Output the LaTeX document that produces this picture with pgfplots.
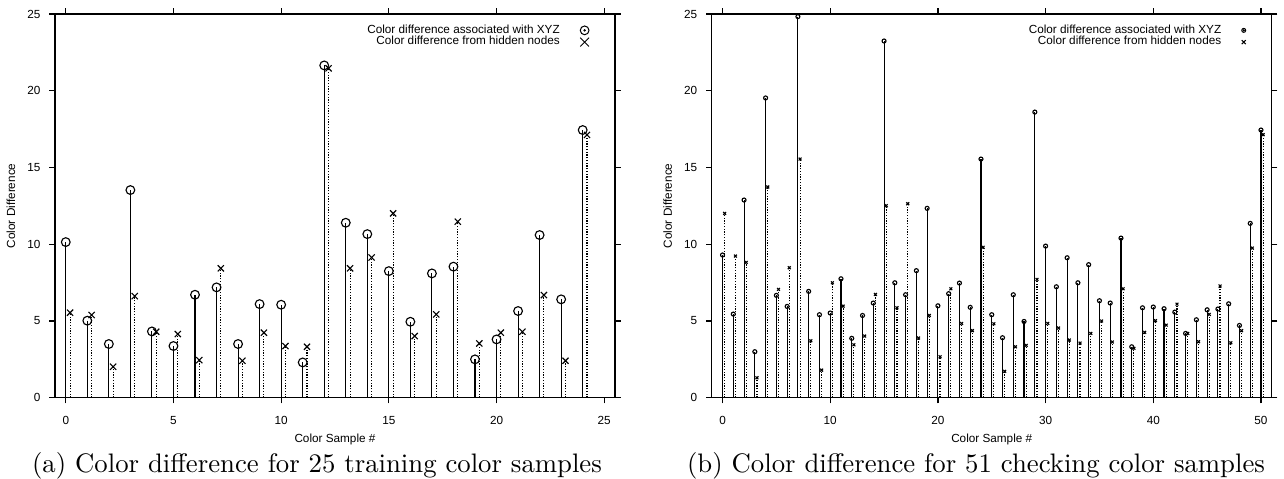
\documentclass[border=0pt]{standalone}
\usepackage{fontspec}
\usepackage{pgfplots}
\usepackage{pgfplotstable}
\pgfplotsset{compat=1.18}
\newfontfamily\hv{Liberation Sans}

% x = sample, c = XYZ difference (circle), h = hidden nodes difference (cross)
\pgfplotstableread{
x c h
0 10.14 5.54
1 5.02 5.39
2 3.50 2.02
3 13.53 6.62
4 4.32 4.30
5 3.37 4.15
6 6.71 2.45
7 7.19 8.43
8 3.50 2.41
9 6.10 4.24
10 6.06 3.37
11 2.30 3.32
12 21.65 21.46
13 11.40 8.43
14 10.66 9.14
15 8.25 12.01
16 4.95 4.02
17 8.10 5.43
18 8.54 11.47
19 2.50 3.54
20 3.80 4.24
21 5.65 4.30
22 10.60 6.69
23 6.41 2.41
24 17.44 17.12
}\traindata

\pgfplotstableread{
x c h
0 9.30 12.01
1 5.45 9.23
2 12.88 8.82
3 3.00 1.30
4 19.53 13.73
5 6.67 7.06
6 5.95 8.47
7 24.83 15.55
8 6.93 3.71
9 5.41 1.80
10 5.52 7.49
11 7.75 5.97
12 3.87 3.45
13 5.36 4.02
14 6.17 6.73
15 23.24 12.51
16 7.49 5.86
17 6.71 12.64
18 8.28 3.89
19 12.34 5.36
20 5.99 2.67
21 6.78 7.10
22 7.47 4.84
23 5.89 4.37
24 15.55 9.80
25 5.41 4.82
26 3.91 1.72
27 6.71 3.32
28 4.97 3.41
29 18.61 7.71
30 9.88 4.84
31 7.23 4.54
32 9.12 3.76
33 7.49 3.56
34 8.67 4.19
35 6.32 5.00
36 6.17 3.63
37 10.40 7.10
38 3.32 3.22
39 5.86 4.26
40 5.91 5.02
41 5.80 4.73
42 5.58 6.10
43 4.19 4.19
44 5.08 3.65
45 5.73 5.43
46 5.78 7.28
47 6.12 3.58
48 4.71 4.37
49 11.36 9.75
50 17.44 17.14
}\checkdata

\pgfplotsset{
  stems/.style={
    scale only axis, width=224pt, height=153.5pt,
    ymin=0, ymax=25, ytick={0,5,...,25},
    tick align=outside, tickpos=both, major tick length=2.3pt,
    axis line style={line width=0.5pt},
    every tick/.style={black, line width=0.5pt},
    tick label style={font=\hv\fontsize{4.7}{5.6}\selectfont},
    xticklabel style={yshift=-1.5pt},
    /pgf/number format/assume math mode=true,
    label style={font=\hv\fontsize{4.7}{5.6}\selectfont},
    xlabel={Color Sample \#}, ylabel={Color Difference},
    ylabel shift=-2pt, xlabel style={yshift=3pt},
    legend cell align=right, legend plot pos=right,
    legend style={draw=none, fill=none, at={(1,1)}, anchor=north east,
      xshift=-7pt, yshift=-2pt, row sep=0pt, column sep=8pt,
      font=\hv\fontsize{4.7}{5.6}\selectfont,
      nodes={inner sep=0pt, text height=3.5pt, text depth=1.2pt}},
  },
  xcomb/.style={ycomb, black, line width=0.45pt, forget plot},
  hcomb/.style={ycomb, black, line width=0.45pt, dash pattern=on 0.5pt off 0.6pt,
    mark=x, mark options={solid}, forget plot},
}

\begin{document}
\begin{tikzpicture}
\useasboundingbox (0,0) rectangle (513.6pt,191.6pt);

\begin{axis}[stems, at={(22pt,32.5pt)}, xmin=-0.5, xmax=25.5, xtick={0,5,...,25}]
\addlegendimage{legend image code/.code={\draw[line width=0.4pt] (2pt,0pt) circle (1.75pt); \fill (2pt,0pt) circle (0.25pt);}}
\addlegendentry{Color difference associated with XYZ}
\addlegendimage{legend image code/.code={\draw[line width=0.4pt] (0.25pt,-1.75pt) -- (3.75pt,1.75pt) (0.25pt,1.75pt) -- (3.75pt,-1.75pt);}}
\addlegendentry{Color difference from hidden nodes}
\addplot[xcomb, mark=o, mark size=1.75pt] table[x=x, y=c] {\traindata};
\addplot[hcomb, mark size=1.75pt] table[x expr=\thisrow{x}+0.2, y=h] {\traindata};
\end{axis}

\begin{axis}[stems, at={(284.7pt,32.5pt)}, xmin=-1, xmax=51, xtick={0,10,...,50}]
\addlegendimage{legend image code/.code={\draw[line width=0.4pt] (2pt,0pt) circle (0.8pt); \fill (2pt,0pt) circle (0.2pt);}}
\addlegendentry{Color difference associated with XYZ}
\addlegendimage{legend image code/.code={\draw[line width=0.4pt] (1.2pt,-0.8pt) -- (2.8pt,0.8pt) (1.2pt,0.8pt) -- (2.8pt,-0.8pt);}}
\addlegendentry{Color difference from hidden nodes}
\addplot[xcomb, mark=o, mark size=0.8pt] table[x=x, y=c] {\checkdata};
\addplot[hcomb, mark size=0.8pt] table[x expr=\thisrow{x}+0.2, y=h] {\checkdata};
\end{axis}

\node[anchor=base, font=\fontsize{10.7}{12.5}\selectfont] at (126.8pt,2.5pt) {(a) Color difference for 25 training color samples};
\node[anchor=base, font=\fontsize{10.7}{12.5}\selectfont] at (390.4pt,2.5pt) {(b) Color difference for 51 checking color samples};
\end{tikzpicture}
\end{document}
